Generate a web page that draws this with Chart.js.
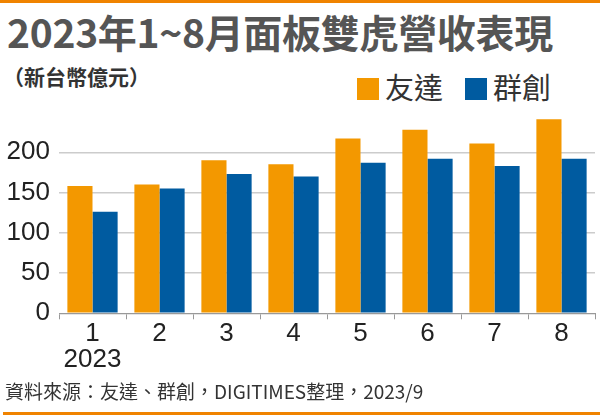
<!DOCTYPE html>
<html>
<head>
<meta charset="utf-8">
<script src="https://cdn.jsdelivr.net/npm/chart.js"></script>
<style>
  body { margin: 0; width: 600px; height: 418px; background: #fff; position: relative; overflow: hidden; font-family: "Noto Sans CJK TC", "Noto Sans", sans-serif; }
  .topbar { position: absolute; left: 0; top: 0; width: 600px; height: 3px; background: #f08300; }
  .bottombar { position: absolute; left: 3px; top: 412px; width: 597px; height: 3px; background: #f08300; }
  #title { position: absolute; left: 7px; top: 8px; font-size: 39px; font-weight: bold; color: #555; white-space: nowrap; line-height: 46px; letter-spacing: -0.3px; }
  #unit { position: absolute; left: 3px; top: 61px; font-size: 21px; font-weight: bold; color: #333; white-space: nowrap; line-height: 30px; }
  #legend { position: absolute; left: 357px; top: 70px; font-size: 29px; color: #333; white-space: nowrap; line-height: 32px; }
  #legend span.box { display: inline-block; width: 22px; height: 22px; vertical-align: -1px; }
  #legend span.lab { margin-left: 6px; margin-right: 22px; }
  #source { position: absolute; left: 5px; top: 377px; font-size: 19px; color: #333; white-space: nowrap; line-height: 28px; }
  #wrap { position: absolute; left: 0; top: 100px; width: 600px; height: 280px; }
</style>
</head>
<body>
<div class="topbar"></div>
<div id="title">2023年1~8月面板雙虎營收表現</div>
<div id="unit">（新台幣億元）</div>
<div id="legend"></div>
<div id="wrap"><canvas id="chart"></canvas></div>
<div id="source">資料來源：友達、群創，DIGITIMES整理，2023/9</div>
<div class="bottombar"></div>
<script>
const months = [['1', '2023'], '2', '3', '4', '5', '6', '7', '8'];
const seriesNames = ['友達', '群創'];
const auo = [158, 160, 190, 185, 217, 228, 211, 241];
const innolux = [126, 155, 173, 170, 187, 192, 183, 192];
const colors = ['#f39800', '#005ba0'];
const yTicks = [0, 50, 100, 150, 200];

document.getElementById('legend').innerHTML = seriesNames.map((n, i) =>
  `<span class="box" style="background:${colors[i]}"></span><span class="lab">${n}</span>`
).join('');

const ctx = document.getElementById('chart').getContext('2d');
new Chart(ctx, {
  type: 'bar',
  data: {
    labels: months,
    datasets: [
      { label: seriesNames[0], data: auo, backgroundColor: colors[0] },
      { label: seriesNames[1], data: innolux, backgroundColor: colors[1] }
    ]
  },
  options: {
    responsive: true,
    maintainAspectRatio: false,
    animation: false,
    layout: { padding: { top: 12, right: 5, left: 0, bottom: 0 } },
    datasets: { bar: { categoryPercentage: 0.75, barPercentage: 1 } },
    plugins: { legend: { display: false }, tooltip: { enabled: false } },
    scales: {
      x: {
        grid: { drawOnChartArea: false, color: '#999', tickLength: 6, offset: true },
        border: { color: '#999', width: 1 },
        ticks: { color: '#222', font: { family: 'Liberation Sans', size: 26, lineHeight: 1 }, padding: 2, maxRotation: 0 },
        afterFit: s => { s.height = 66.7; }
      },
      y: {
        min: 0, max: 250,
        border: { display: false },
        grid: { color: c => yTicks.includes(c.tick.value) ? '#cccccc' : 'rgba(0,0,0,0)', drawTicks: false, lineWidth: 1.5 },
        ticks: {
          stepSize: 50, color: '#222', padding: 9,
          font: { family: 'Liberation Sans', size: 26 },
          callback: v => yTicks.includes(v) ? String(v) : ''
        },
        afterFit: s => { s.width = 59; s.paddingTop = 0; s.paddingBottom = 0; }
      }
    }
  }
});
</script>
</body>
</html>
